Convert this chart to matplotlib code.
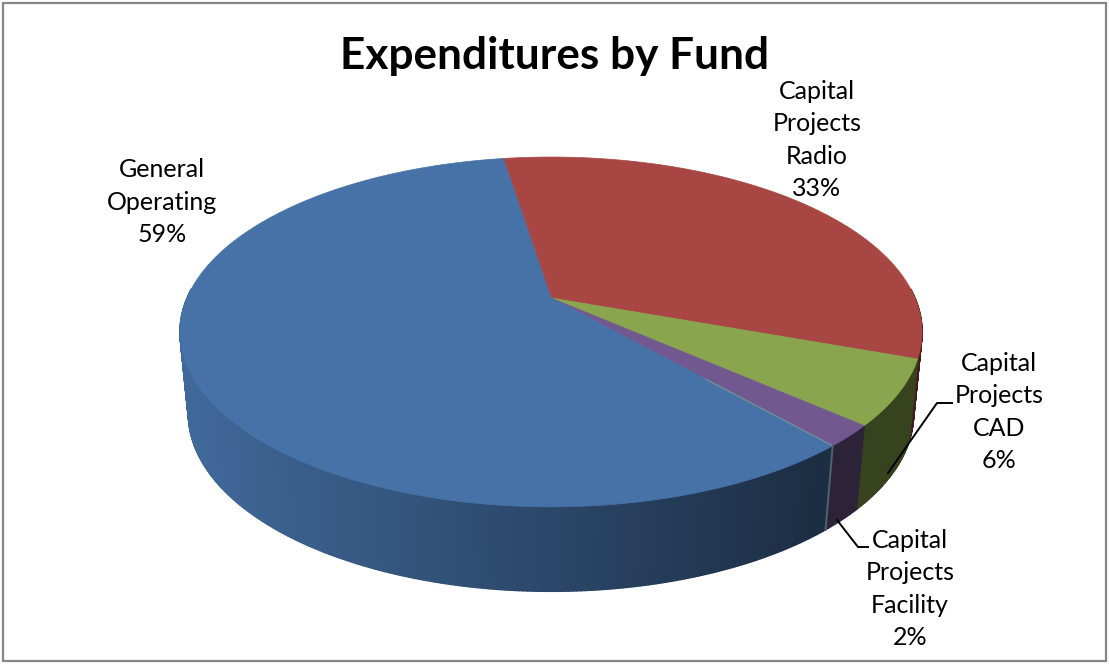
import numpy as np
import matplotlib
matplotlib.use('Agg')
import matplotlib.pyplot as plt
from matplotlib.patches import Rectangle, Polygon
from matplotlib.collections import PolyCollection

# slices in clockwise order starting from the top of the pie
categories = ['Capital\nProjects\nRadio', 'Capital\nProjects\nCAD', 'Capital\nProjects\nFacility', 'General\nOperating']
shares = [33, 6, 2, 59]
top_colors = ['#a84644', '#89a54e', '#71588f', '#4672a8']
label_xy = [(817, 140), (999, 412), (910, 589), (162, 202)]

plt.rcParams['font.family'] = ['Lato', 'DejaVu Sans']

fig = plt.figure(figsize=(11.09, 6.65), dpi=100)
ax = fig.add_axes([0, 0, 1, 1])
ax.set_xlim(0, 1109)
ax.set_ylim(665, 0)
ax.axis('off')

# projected circle: the far side of the pie is squeezed, so the centre sits above mid-ellipse
cx = 551
START = 99.0


def top_pt(t):
    s, c = np.sin(np.radians(t)), np.cos(np.radians(t))
    w = 1 + 0.194 * s
    return cx + 364 * c / w, (298 - 110.5 * s) / w


def bottom_pt(t):
    s, c = np.sin(np.radians(t)), np.cos(np.radians(t))
    w = 1 + 0.19 * s
    return cx + 356 * c / w, (380 - 99 * s) / w


def darker(color, x):
    # wall shading falls from left to right
    rgb = np.array(matplotlib.colors.to_rgb(color))
    u = (x - 180) / 740
    return tuple(rgb * max(0.92 - 0.60 * np.clip(u, 0, 1), 0.4))


# slice boundaries, in degrees, going clockwise
edges = START - np.cumsum([0] + shares) * 3.6

# outer wall, drawn as thin strips so the shading reads as a gradient
polys, cols = [], []
for i, col in enumerate(top_colors):
    a, b = edges[i], edges[i + 1]
    ts = np.arange(a, b - 0.01, -0.5)
    ts = np.append(ts, b)
    for t0, t1 in zip(ts[:-1], ts[1:]):
        mid = (t0 + t1) / 2
        if np.sin(np.radians(mid)) > 0.05:
            continue
        p = [top_pt(t0), top_pt(t1), bottom_pt(t1), bottom_pt(t0)]
        polys.append(p)
        cols.append(darker(col, top_pt(mid)[0]))
ax.add_collection(PolyCollection(polys, facecolors=cols, edgecolors=cols, linewidths=1.0, zorder=2))

# top surface
for i, col in enumerate(top_colors):
    ts = np.linspace(edges[i], edges[i + 1], 200)
    x, y = top_pt(ts)
    pts = np.column_stack([np.r_[cx, x], np.r_[298, y]])
    ax.add_patch(Polygon(pts, closed=True, facecolor=col, edgecolor=col, lw=0.5, zorder=3))

# thin seam between the blue and purple slices
seam = edges[3]
ax.plot([cx + (top_pt(seam)[0] - cx) * 0.55, top_pt(seam)[0]], [298 + (top_pt(seam)[1] - 298) * 0.55, top_pt(seam)[1]],
        color='#6f8f98', lw=1.0, zorder=4)
ax.plot([top_pt(seam)[0], bottom_pt(seam)[0]], [top_pt(seam)[1], bottom_pt(seam)[1]], color='#4f6468', lw=1.4, zorder=4)

# leader lines
ax.plot([888, 937, 952], [473, 403, 403], color='black', lw=1.4, zorder=5)
ax.plot([837, 858, 868], [520, 547, 547], color='black', lw=1.4, zorder=5)

for name, share, (lx, ly) in zip(categories, shares, label_xy):
    ax.text(lx, ly, f'{name}\n{share}%', ha='center', va='center', fontsize=18, color='black',
            linespacing=1.5, zorder=6)

ax.text(555, 56, 'Expenditures by Fund', ha='center', va='center', fontsize=31.8, fontweight='bold',
        color='black', zorder=6)

# chart frame
ax.add_patch(Rectangle((3, 3), 1103, 658, fill=False, edgecolor='#868686', lw=1.6, zorder=7))

fig.savefig('out.png', dpi=100, facecolor='white')
